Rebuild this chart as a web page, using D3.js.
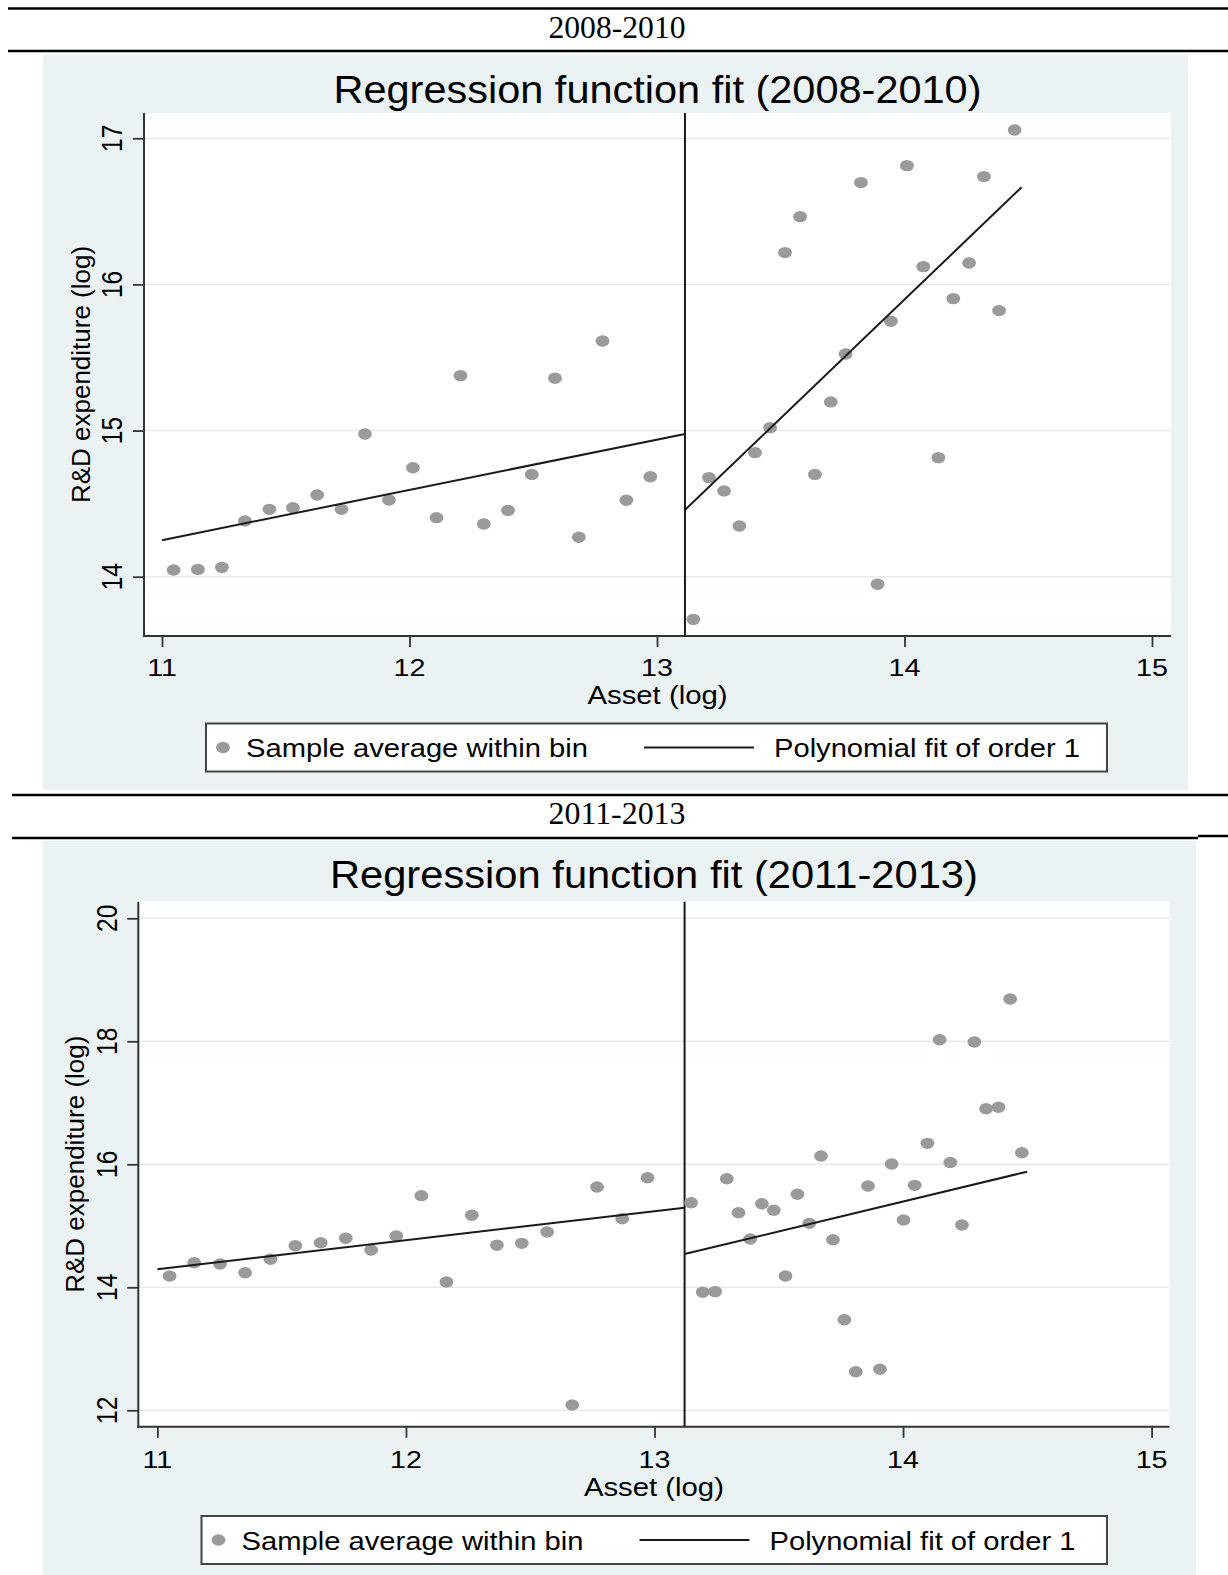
<!DOCTYPE html>
<html><head><meta charset="utf-8">
<script src="https://cdn.jsdelivr.net/npm/d3@7"></script>
<style>body{margin:0;background:#fff} svg{display:block}</style>
</head><body>
<svg id="c" width="1228" height="1575"></svg>
<script>
// ---------------- data ----------------
const periods = ["2008-2010", "2011-2013"];
const titles = ["Regression function fit (2008-2010)", "Regression function fit (2011-2013)"];
const xLabel = "Asset (log)";
const yLabel = "R&D expenditure (log)";
const legendLabels = ["Sample average within bin", "Polynomial fit of order 1"];
const xTicks = [11, 12, 13, 14, 15];
const yTicksA = [14, 15, 16, 17];
const yTicksB = [12, 14, 16, 18, 20];
const cutoffA = 13.113, cutoffB = 13.121;

const leftAssetA = [11.047,11.145,11.242,11.335,11.434,11.529,11.627,11.725,11.820,11.917,12.014,12.109,12.206,12.300,12.398,12.494,12.588,12.684,12.780,12.876,12.973];
const leftRDA    = [14.046,14.050,14.064,14.381,14.461,14.472,14.559,14.461,14.977,14.525,14.746,14.404,15.376,14.361,14.454,14.700,15.358,14.270,15.613,14.523,14.684];
const rightAssetA = [13.147,13.210,13.271,13.333,13.396,13.457,13.517,13.578,13.638,13.702,13.762,13.824,13.891,13.945,14.010,14.076,14.137,14.197,14.261,14.321,14.382,14.445];
const rightRDA    = [13.708,14.678,14.587,14.347,14.849,15.020,16.218,16.464,14.700,15.196,15.524,16.697,13.948,15.748,16.813,16.122,14.815,15.903,16.147,16.738,15.821,17.057];
const fitLeftXA = [11.0, 13.113], fitLeftYA = [14.250, 14.977];
const fitRightXA = [13.113, 14.473], fitRightYA = [14.457, 16.665];

const leftAssetB = [11.049,11.148,11.252,11.353,11.455,11.555,11.657,11.758,11.860,11.961,12.062,12.163,12.265,12.366,12.466,12.568,12.669,12.769,12.870,12.972];
const leftRDB    = [14.184,14.400,14.379,14.237,14.455,14.676,14.725,14.797,14.607,14.834,15.490,14.086,15.171,14.683,14.715,14.899,12.086,15.631,15.115,15.782];
const rightAssetB = [13.147,13.194,13.244,13.291,13.338,13.385,13.432,13.480,13.527,13.575,13.623,13.670,13.718,13.764,13.810,13.859,13.907,13.954,14.002,14.047,14.098,14.147,14.190,14.237,14.287,14.334,14.384,14.431,14.478];
const rightRDB    = [15.376,13.920,13.930,15.766,15.213,14.785,15.359,15.252,14.184,15.512,15.040,16.135,14.774,13.473,12.628,15.647,12.667,16.005,15.094,15.658,16.341,18.026,16.030,15.013,17.989,16.904,16.927,18.688,16.189];
const fitLeftXB = [11.0, 13.121], fitLeftYB = [14.293, 15.294];
const fitRightXB = [13.121, 14.499], fitRightYB = [14.541, 15.880];

// ---------------- drawing ----------------
const svg = d3.select("#c");
const SANS = "'Liberation Sans', Arial, sans-serif";
const SERIF = "'Liberation Serif', 'Times New Roman', serif";
const PANEL = "#eaf2f3", GRID = "#e3ecee", DOT = "#9a9a9a", INK = "#1a1a1a";
const SX = 1.17; // horizontal stretch of the original picture

function rule(x1, x2, y) {
  svg.append("line").attr("x1", x1).attr("x2", x2).attr("y1", y).attr("y2", y)
    .attr("stroke", "#000").attr("stroke-width", 2.5);
}

// section headers
rule(8, 1228, 8.5); rule(8, 1228, 51);
svg.append("text").attr("x", 617).attr("y", 38).attr("text-anchor", "middle")
  .attr("font-family", SERIF).attr("font-size", 31).attr("textLength", 137).attr("lengthAdjust", "spacingAndGlyphs")
  .text(periods[0]);
rule(12, 1228, 795); rule(12, 1198, 838); rule(1198, 1228, 836);
svg.append("text").attr("x", 617).attr("y", 824).attr("text-anchor", "middle")
  .attr("font-family", SERIF).attr("font-size", 31).attr("textLength", 137).attr("lengthAdjust", "spacingAndGlyphs")
  .text(periods[1]);

function drawChart(cfg) {
  const g = svg.append("g");
  const x = d3.scaleLinear().domain([11, 15]).range(cfg.xr);
  const y = d3.scaleLinear().domain(cfg.yd).range(cfg.yr);
  const p = cfg.plot;
  // background panel
  g.append("rect").attr("x", cfg.panel[0]).attr("y", cfg.panel[1])
    .attr("width", cfg.panel[2] - cfg.panel[0]).attr("height", cfg.panel[3] - cfg.panel[1]).attr("fill", PANEL);
  g.append("rect").attr("x", p.x0).attr("y", p.y0).attr("width", p.x1 - p.x0).attr("height", p.y1 - p.y0).attr("fill", "#fff");
  // title
  g.append("text").attr("x", (p.x0 + p.x1) / 2).attr("y", cfg.titleY).attr("text-anchor", "middle")
    .attr("font-family", SANS).attr("font-size", 38).attr("fill", "#000")
    .attr("textLength", 648).attr("lengthAdjust", "spacingAndGlyphs").text(cfg.title);
  // gridlines
  g.selectAll(".grid").data(cfg.yTicks).join("line")
    .attr("x1", p.x0).attr("x2", p.x1).attr("y1", d => y(d)).attr("y2", d => y(d))
    .attr("stroke", GRID).attr("stroke-width", 1.6);
  // axes (ticks via d3 axis)
  const ya = g.append("g").attr("transform", `translate(${p.x0},0)`)
    .call(d3.axisLeft(y).tickValues(cfg.yTicks).tickSize(11).tickSizeOuter(0).tickFormat(""));
  const xa = g.append("g").attr("transform", `translate(0,${p.y1})`)
    .call(d3.axisBottom(x).tickValues(xTicks).tickSize(11).tickSizeOuter(0).tickFormat(""));
  [ya, xa].forEach(a => {
    a.select(".domain").remove();
    a.selectAll(".tick line").attr("stroke", "#333").attr("stroke-width", 1.8);
  });
  g.append("line").attr("x1", p.x0).attr("x2", p.x0).attr("y1", p.y0).attr("y2", p.y1 + 1)
    .attr("stroke", "#333").attr("stroke-width", 2);
  g.append("line").attr("x1", p.x0 - 1).attr("x2", p.x1).attr("y1", p.y1).attr("y2", p.y1)
    .attr("stroke", "#333").attr("stroke-width", 2);
  // tick labels
  g.selectAll(".xtl").data(xTicks).join("text")
    .attr("transform", d => `translate(${x(d)},${p.y1 + cfg.xtlOff}) scale(${SX},1)`)
    .attr("text-anchor", "middle").attr("font-family", SANS).attr("font-size", 24.5).attr("fill", "#000")
    .text(d => d);
  g.selectAll(".ytl").data(cfg.yTicks).join("text")
    .attr("transform", d => `translate(${cfg.ytlX},${y(d)}) scale(${SX},1) rotate(-90)`)
    .attr("text-anchor", "middle").attr("font-family", SANS).attr("font-size", 24.5).attr("fill", "#000")
    .text(d => d);
  // axis titles
  g.append("text").attr("x", (p.x0 + p.x1) / 2).attr("y", p.y1 + cfg.xlabOff).attr("text-anchor", "middle")
    .attr("font-family", SANS).attr("font-size", 25).attr("fill", "#000")
    .attr("textLength", 140).attr("lengthAdjust", "spacingAndGlyphs").text(xLabel);
  g.append("text").attr("transform", `translate(${cfg.ylabX},${(p.y0 + p.y1) / 2}) rotate(-90)`)
    .attr("text-anchor", "middle").attr("font-family", SANS).attr("font-size", 26).attr("fill", "#000")
    .text(yLabel);
  // cutoff line
  g.append("line").attr("x1", x(cfg.cutoff)).attr("x2", x(cfg.cutoff)).attr("y1", p.y0).attr("y2", p.y1)
    .attr("stroke", INK).attr("stroke-width", 2);
  // points
  const pts = cfg.lx.map((v, i) => [v, cfg.ly[i]]).concat(cfg.rx.map((v, i) => [v, cfg.ry[i]]));
  g.selectAll(".pt").data(pts).join("ellipse")
    .attr("cx", d => x(d[0])).attr("cy", d => y(d[1])).attr("rx", 6.9).attr("ry", 5.7).attr("fill", DOT);
  // fit lines
  const line = d3.line().x(d => x(d[0])).y(d => y(d[1]));
  [[cfg.flx, cfg.fly], [cfg.frx, cfg.fry]].forEach(([fx, fy]) => {
    g.append("path").datum(fx.map((v, i) => [v, fy[i]])).attr("d", line)
      .attr("fill", "none").attr("stroke", INK).attr("stroke-width", 2);
  });
  // legend
  const L = cfg.legend;
  g.append("rect").attr("x", L[0]).attr("y", L[1]).attr("width", L[2] - L[0]).attr("height", L[3] - L[1])
    .attr("fill", "#fff").attr("stroke", "#444").attr("stroke-width", 2);
  const my = (L[1] + L[3]) / 2;
  g.append("ellipse").attr("cx", L[0] + 17).attr("cy", my).attr("rx", 6.9).attr("ry", 5.7).attr("fill", DOT);
  g.append("text").attr("x", L[0] + 40).attr("y", my + 9.5).attr("font-family", SANS).attr("font-size", 26.5)
    .attr("fill", "#000").attr("textLength", 342).attr("lengthAdjust", "spacingAndGlyphs").text(legendLabels[0]);
  g.append("line").attr("x1", L[0] + 438).attr("x2", L[0] + 548).attr("y1", my).attr("y2", my)
    .attr("stroke", INK).attr("stroke-width", 2);
  g.append("text").attr("x", L[0] + 568).attr("y", my + 9.5).attr("font-family", SANS).attr("font-size", 26.5)
    .attr("fill", "#000").attr("textLength", 306).attr("lengthAdjust", "spacingAndGlyphs").text(legendLabels[1]);
}

drawChart({
  panel: [43, 55, 1188, 790], plot: { x0: 144, x1: 1171, y0: 113, y1: 636 },
  xr: [162, 1152], yd: [14, 17], yr: [576.7, 138.3], yTicks: yTicksA,
  title: titles[0], titleY: 103, xtlOff: 40, xlabOff: 68, ytlX: 121.5, ylabX: 90,
  cutoff: cutoffA, lx: leftAssetA, ly: leftRDA, rx: rightAssetA, ry: rightRDA,
  flx: fitLeftXA, fly: fitLeftYA, frx: fitRightXA, fry: fitRightYA,
  legend: [206, 723.5, 1107, 771.5]
});
drawChart({
  panel: [43, 841, 1196, 1575], plot: { x0: 138.3, x1: 1169.5, y0: 901.7, y1: 1426.7 },
  xr: [157.4, 1151.6], yd: [12, 20], yr: [1410.3, 918.3], yTicks: yTicksB,
  title: titles[1], titleY: 888, xtlOff: 41, xlabOff: 69, ytlX: 116.5, ylabX: 83.5,
  cutoff: cutoffB, lx: leftAssetB, ly: leftRDB, rx: rightAssetB, ry: rightRDB,
  flx: fitLeftXB, fly: fitLeftYB, frx: fitRightXB, fry: fitRightYB,
  legend: [201.5, 1516, 1107, 1564]
});
</script>
</body></html>
